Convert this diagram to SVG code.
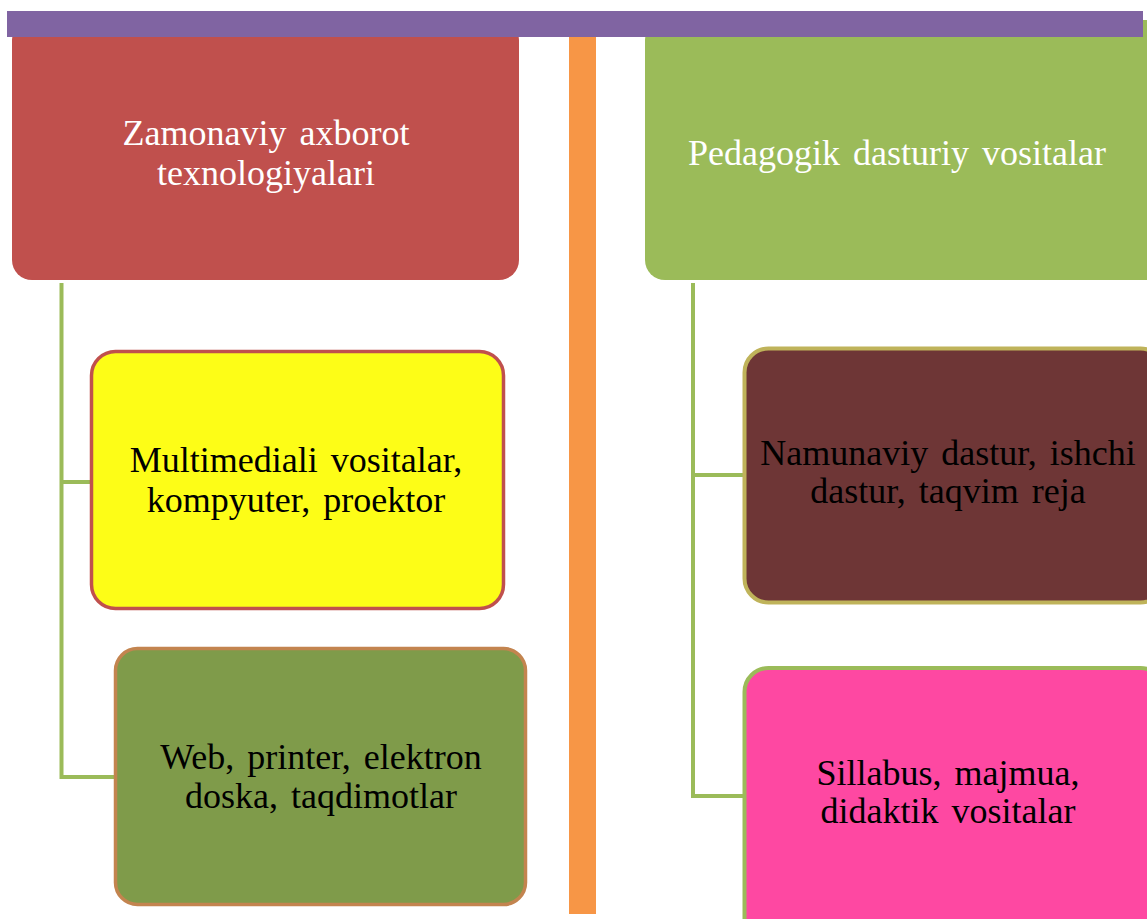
<svg xmlns="http://www.w3.org/2000/svg" width="1147" height="919" viewBox="0 0 1147 919">
  <style>
    .conn { fill: none; stroke: #9bbb59; stroke-width: 4; }
    .head { font-family: "Liberation Serif", "Times New Roman", serif; font-size: 36px; fill: #ffffff; text-anchor: middle; word-spacing: 4px; }
    .item { font-family: "Liberation Serif", "Times New Roman", serif; font-size: 36px; fill: #000000; text-anchor: middle; word-spacing: 4px; }
  </style>
  <rect width="1147" height="919" fill="#ffffff"/>

  <!-- connectors -->
  <g id="connectors">
    <path class="conn" d="M61.5 283 V 482 H 92 M61.5 480 V 777 H 116"/>
    <path class="conn" d="M693 283 V 475 H 745 M693 473 V 796 H 745"/>
  </g>

  <!-- left column -->
  <g id="node-zamonaviy">
    <rect x="12" y="20" width="507" height="260" rx="20" fill="#c0504d"/>
    <text class="head" x="266" y="145">Zamonaviy axborot</text>
    <text class="head" x="266" y="185">texnologiyalari</text>
  </g>
  <g id="node-multimedia">
    <rect x="91.5" y="351.5" width="412" height="257" rx="24" fill="#fdfd17" stroke="#c0504d" stroke-width="3.5"/>
    <text class="item" x="296" y="472">Multimediali vositalar,</text>
    <text class="item" x="296" y="512">kompyuter, proektor</text>
  </g>
  <g id="node-web">
    <rect x="115.5" y="648.5" width="410" height="256" rx="22" fill="#7f9b4a" stroke="#c3844f" stroke-width="3.5"/>
    <text class="item" x="321" y="769">Web, printer, elektron</text>
    <text class="item" x="321" y="808">doska, taqdimotlar</text>
  </g>

  <!-- divider -->
  <g id="divider">
    <rect x="569" y="30" width="27" height="884" fill="#f79646"/>
  </g>

  <!-- right column -->
  <g id="node-pedagogik">
    <rect x="645" y="20" width="520" height="260" rx="20" fill="#9bbb59"/>
    <text class="head" x="897" y="165">Pedagogik dasturiy vositalar</text>
  </g>
  <g id="node-namunaviy">
    <rect x="744.5" y="348.5" width="420" height="254" rx="24" fill="#6e3636" stroke="#bfb35a" stroke-width="4"/>
    <text class="item" x="948" y="465">Namunaviy dastur, ishchi</text>
    <text class="item" x="948" y="503">dastur, taqvim reja</text>
  </g>
  <g id="node-sillabus">
    <rect x="744.5" y="668" width="420" height="280" rx="24" fill="#fe48a2" stroke="#9bbb59" stroke-width="4"/>
    <text class="item" x="948" y="785">Sillabus, majmua,</text>
    <text class="item" x="948" y="823">didaktik vositalar</text>
  </g>

  <!-- top band -->
  <g id="top-band">
    <rect x="7" y="11" width="1136" height="26" fill="#8064a2"/>
  </g>
</svg>
